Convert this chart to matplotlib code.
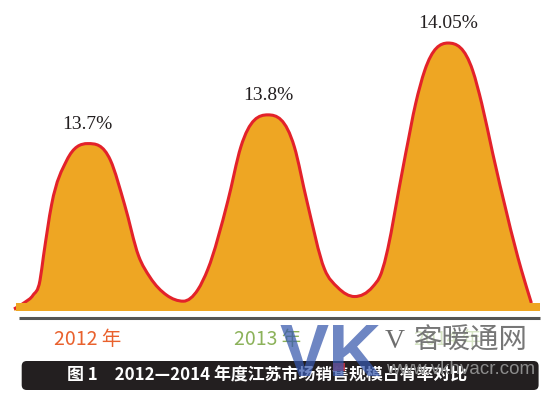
import matplotlib
matplotlib.use("Agg")
import matplotlib.pyplot as plt
from matplotlib.path import Path
from matplotlib.patches import PathPatch, FancyBboxPatch, Rectangle
from matplotlib.transforms import IdentityTransform, blended_transform_factory
from matplotlib.lines import Line2D
import numpy as np

# ---------------- data ----------------
years = ["2012 年", "2013 年", "2014 年"]
shares = [13.7, 13.8, 14.05]
share_labels = ["13.7%", "13.8%", "14.05%"]
year_colors = ["#e9612d", "#8cb25a", "#8cb25a"]
year_alpha = [1.0, 1.0, 0.35]
caption = "图 1\u30002012—2014 年度江苏市场销售规模占有率对比"

# ---------------- hump outline style (offset px from peak, fraction of height) ----
hump_left = [
    [(-73.7, .006), (-62.7, .047), (-54.7, .089), (-47.7, .178), (-44.2, .325), (-36.1, .633), (-21.0, .899)],
    [(-70.0, .104), (-60.0, .209), (-40.0, .559), (-27.0, .836)],
    [(-75.3, .087), (-68.3, .124), (-42.3, .587), (-32.3, .774), (-23.3, .897)],
]
hump_right = [
    [(22.8, .899), (36.9, .633), (50.9, .325), (62.3, .197), (79.0, .089), (95.6, .053)],
    [(26.5, .836), (39.0, .559), (56.7, .209), (70.0, .115), (86.7, .069)],
    [(24.7, .897), (33.7, .774), (44.7, .587), (73.4, .150), (83.4, .026)],
]

W, H = 550, 395
fig = plt.figure(figsize=(5.5, 3.95), dpi=100)
ax = fig.add_axes([0, 0, 1, 1])
ax.set_axis_off()

X_PER_PX = 1 / 180.15
Y_PER_PX = 1 / 287.3
x0_px = 87.7
ax.set_xlim(-x0_px * X_PER_PX, (W - x0_px) * X_PER_PX)
ax.set_ylim(13.85 - 294.5 * Y_PER_PX, 13.85 + 100.5 * Y_PER_PX)
base = 13.85 - 209.5 * Y_PER_PX

# knots
pts = []
for i, v in enumerate(shares):
    h = v - base
    for dx, f in hump_left[i]:
        pts.append((i + dx * X_PER_PX, base + f * h))
    pts.append((i, v))
    for dx, f in hump_right[i]:
        pts.append((i + dx * X_PER_PX, base + f * h))
pts = np.array(pts)
xs, ys = pts[:, 0], pts[:, 1]
N = len(pts)

# smooth tangents (3-point, limited to avoid overshoot) -> cubic Bezier segments
hk = np.diff(xs)
dk = np.diff(ys) / hk
m = np.zeros(N)
m[0], m[-1] = dk[0], dk[-1]
for k in range(1, N - 1):
    if dk[k - 1] * dk[k] <= 0:
        m[k] = 0.0
    else:
        mm = (hk[k] * dk[k - 1] + hk[k - 1] * dk[k]) / (hk[k - 1] + hk[k])
        lim = 3 * min(abs(dk[k - 1]), abs(dk[k]))
        m[k] = np.sign(mm) * min(abs(mm), lim)

verts = [pts[0]]
codes = [Path.MOVETO]
for k in range(N - 1):
    d = hk[k] / 3.0
    c1 = (xs[k] + d, ys[k] + m[k] * d)
    c2 = (xs[k + 1] - d, ys[k + 1] - m[k + 1] * d)
    verts += [c1, c2, pts[k + 1]]
    codes += [Path.CURVE4] * 3

fill_bottom = 13.85 - 210.0 * Y_PER_PX
fverts = verts + [(xs[-1], fill_bottom), (xs[0], fill_bottom), pts[0]]
fcodes = codes + [Path.LINETO, Path.LINETO, Path.CLOSEPOLY]

orange = "#eea623"
red = "#e3222a"
ax.add_patch(PathPatch(Path(fverts, fcodes), facecolor=orange, edgecolor="none", zorder=1))
ax.add_patch(PathPatch(Path(verts, codes), facecolor="none", edgecolor=red, lw=2.2,
                       zorder=2, capstyle="butt", joinstyle="round"))

# bottom orange strip and gray rule
ax.add_patch(Rectangle((16 / W, 1 - 310.5 / H), (540 - 16) / W, 7.5 / H,
                       transform=ax.transAxes, facecolor=orange, edgecolor="none", zorder=3))
ax.add_line(Line2D([19 / W, 540 / W], [1 - 317.5 / H] * 2, transform=ax.transAxes,
                   color="#555555", lw=2.2, solid_capstyle="butt"))

cjk = ["Noto Sans CJK SC", "DejaVu Sans"]

# value labels
for i, (v, lab) in enumerate(zip(shares, share_labels)):
    ax.annotate(lab, (i, v), xytext=(0, 14), textcoords="offset points",
                ha="center", va="center", fontsize=14, family="Liberation Serif",
                color="#231f20", zorder=5)

# year labels
bt = blended_transform_factory(ax.transData, ax.transAxes)
for i, (y, c, a) in enumerate(zip(years, year_colors, year_alpha)):
    ax.text(i, 1 - 339.5 / H, y, transform=bt, ha="center", va="center",
            fontsize=14, family=cjk, color=c, alpha=a, zorder=4)

idt = IdentityTransform()

# caption bar
bar = FancyBboxPatch((21.7, H - 390), 538.6 - 21.7, 29,
                     boxstyle="round,pad=0,rounding_size=5",
                     transform=idt, facecolor="#231f20", edgecolor="none", zorder=6)
fig.add_artist(bar)
fig.text(66.7, H - 375, caption, transform=idt, ha="left", va="center",
         color="white", fontsize=12.2, family=cjk, weight="bold", zorder=7)

# watermark
fig.text(280, H - 357, "VK", transform=idt, ha="left", va="center",
         fontsize=53, family=["Liberation Sans Narrow", "Liberation Sans"], weight="bold",
         color="#3657ad", alpha=0.72, zorder=8)
fig.add_artist(Rectangle((333, H - 371), 12, 8, transform=idt, facecolor="#c8323c",
                         edgecolor="none", alpha=0.9, zorder=8))
fig.text(385, H - 342, "V", transform=idt, ha="left", va="center",
         fontsize=20, family="Liberation Serif", color="#6e6e6e", zorder=8)
fig.text(413, H - 341, "客暖通网", transform=idt, ha="left", va="center",
         fontsize=20.5, family=cjk, color="#707070", alpha=0.95, zorder=8)
fig.text(386, H - 370, "www.vkhvacr.com", transform=idt, ha="left", va="center",
         fontsize=13.5, family="Liberation Sans", color="#8c8c8c", zorder=8)

fig.savefig("out.png", dpi=100)
